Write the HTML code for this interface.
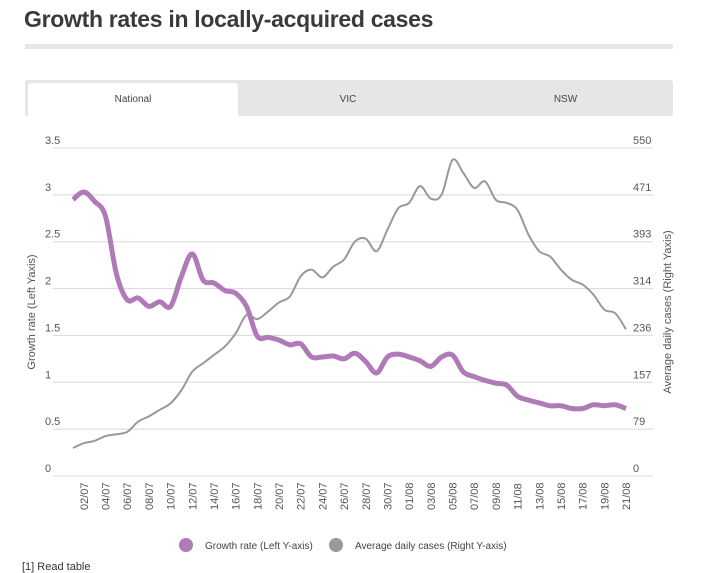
<!DOCTYPE html>
<html><head><meta charset="utf-8">
<style>
body{margin:0;width:706px;height:570px;overflow:hidden;background:#fff;font-family:"Liberation Sans",sans-serif;color:#333;}
#title{position:absolute;left:24px;top:6px;font-size:23px;font-weight:bold;color:#3a3a3a;margin:0;letter-spacing:-0.3px}
#rule{position:absolute;left:25px;top:44px;width:648px;height:5px;background:#e6e6e6}
#tabs{position:absolute;left:25px;top:80px;width:648px;height:36px;background:#e6e6e6;border-radius:3px}
.tab{position:absolute;top:3px;height:33px;line-height:33px;text-align:center;font-size:10px;color:#444}
#foot{position:absolute;left:22px;top:561px;font-size:11px;color:#333}
</style></head><body>
<h1 id="title">Growth rates in locally-acquired cases</h1>
<div id="rule"></div>
<div id="tabs">
<div class="tab" style="left:3px;width:210px;background:#fff;border-radius:3px 3px 0 0">National</div>
<div class="tab" style="left:213px;width:220px">VIC</div>
<div class="tab" style="left:433px;width:215px">NSW</div>
</div>
<svg id="chart" width="706" height="570" style="position:absolute;left:0;top:0"></svg>
<div id="foot">[1] Read table</div>
<script>
const dayLabels=[];for(let d=1;d<=31;d++)dayLabels.push(String(d).padStart(2,'0')+'/07');for(let d=1;d<=21;d++)dayLabels.push(String(d).padStart(2,'0')+'/08');
const growthRate=[2.95,3.03,2.93,2.77,2.16,1.88,1.9,1.81,1.86,1.81,2.13,2.37,2.09,2.06,1.98,1.95,1.81,1.49,1.48,1.45,1.40,1.41,1.27,1.27,1.28,1.25,1.31,1.22,1.10,1.27,1.30,1.27,1.23,1.17,1.27,1.29,1.11,1.06,1.02,0.99,0.97,0.85,0.81,0.78,0.75,0.75,0.72,0.72,0.76,0.75,0.76,0.72];
const avgCases=[47,55,59,67,70,74,91,100,111,122,144,175,189,203,217,239,270,263,276,291,301,335,346,333,351,363,393,398,377,413,449,458,486,465,472,530,508,483,494,463,458,446,405,377,368,346,329,321,304,279,273,246];
const leftTicks=[0,0.5,1,1.5,2,2.5,3,3.5];
const rightTicks=[0,79,157,236,314,393,471,550];
const NS='http://www.w3.org/2000/svg',svg=document.getElementById('chart');
const X0=73,X1=626,YT=148,YB=476;
const xS=i=>X0+(X1-X0)*i/(dayLabels.length-1);
const yL=v=>YB-(YB-YT)*v/3.5;
const yR=v=>YB-(YB-YT)*v/550;
function mk(t,a,txt){const e=document.createElementNS(NS,t);for(const k in a)e.setAttribute(k,a[k]);if(txt!==undefined)e.textContent=txt;svg.appendChild(e);return e;}
leftTicks.forEach((v,i)=>{
const g=mk('line',{x1:53,x2:653,y1:yL(v),y2:yL(v),stroke:'#d8d8d8','stroke-width':1});


const t=mk('text',{x:45,y:yL(v)-4,'font-size':11,fill:'#555'},String(v));


const r=mk('text',{x:633,y:yR(rightTicks[i])-4,'font-size':11,fill:'#555'},String(rightTicks[i]));


});
dayLabels.forEach((l,i)=>{if(i%2!==1)return;
const x=xS(i)+4;
const t=mk('text',{x:x,y:510,'font-size':11,fill:'#555',transform:`rotate(-90 ${x} 510)`},l);


});
function path(vals,sc){const p=vals.map((v,i)=>[xS(i),sc(v)]);let d=`M${p[0][0]},${p[0][1]}`;
for(let i=0;i<p.length-1;i++){const a=p[Math.max(0,i-1)],b=p[i],c=p[i+1],e=p[Math.min(p.length-1,i+2)];
d+=` C${b[0]+(c[0]-a[0])/6},${b[1]+(c[1]-a[1])/6} ${c[0]-(e[0]-b[0])/6},${c[1]-(e[1]-b[1])/6} ${c[0]},${c[1]}`;}return d;}
const g2=mk('path',{d:path(avgCases,yR),fill:'none',stroke:'#999','stroke-width':2});


const g1=mk('path',{d:path(growthRate,yL),fill:'none',stroke:'#b07ab8','stroke-width':5,'stroke-linejoin':'round'});


const ly=mk('text',{x:35,y:312,'font-size':11,fill:'#555','text-anchor':'middle',transform:'rotate(-90 35 312)'},'Growth rate (Left Yaxis)');


const ry=mk('text',{x:671,y:312,'font-size':11,fill:'#555','text-anchor':'middle',transform:'rotate(-90 671 312)'},'Average daily cases (Right Yaxis)');


const c1=mk('circle',{cx:186,cy:545,r:7,fill:'#b07ab8'});


const t1=mk('text',{x:205,y:549,'font-size':10,fill:'#444'},'Growth rate (Left Y-axis)');


const c2=mk('circle',{cx:336,cy:545,r:7,fill:'#999'});


const t2=mk('text',{x:355,y:549,'font-size':10,fill:'#444'},'Average daily cases (Right Y-axis)');


</script>
</body></html>
